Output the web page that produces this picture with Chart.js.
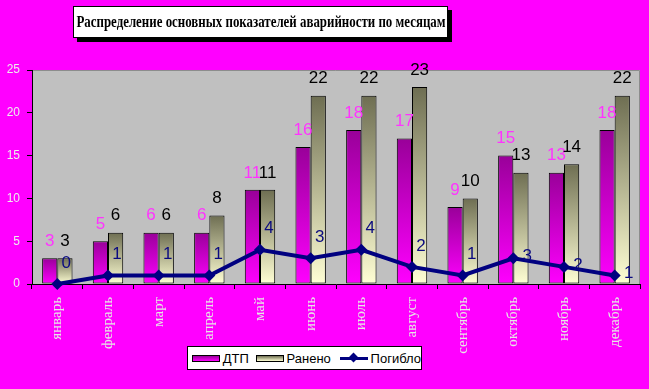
<!DOCTYPE html>
<html>
<head>
<meta charset="utf-8">
<script src="https://cdn.jsdelivr.net/npm/chart.js@4.4.1/dist/chart.umd.min.js"></script>
<style>
  html, body { margin: 0; padding: 0; background: #ff00ff; }
  #wrap { position: relative; width: 649px; height: 389px; overflow: hidden; background: #ff00ff; }
  #c { position: absolute; left: 0; top: 0; }
  #title {
    position: absolute; left: 73px; top: 6px; width: 373px; height: 30px;
    background: #fff; border: 1px solid #000; box-shadow: 4px 4px 0 #000;
    color: #000; white-space: nowrap; overflow: hidden;
  }
  #titleText {
    position: absolute; left: 50%; top: 0; transform: translateX(-50%);
    transform-origin: center center;
    font-family: "Liberation Serif", "DejaVu Serif", serif; font-weight: bold; font-size: 16px;
    line-height: 30px; white-space: nowrap;
  }
  #legend {
    position: absolute; left: 187px; top: 346px; width: 233px; height: 22px;
    background: #fff; border: 1px solid #000;
    font-family: "Liberation Sans", Arial, sans-serif; font-size: 13px; color: #000;
    display: flex; align-items: center; white-space: nowrap;
  }
  .sw { display: inline-block; width: 26px; height: 5px; border: 1px solid #000; margin-right: 3px; }
  .sw1 { background: linear-gradient(to bottom, #990099, #ff00ff); margin-left: 4px; }
  .sw2 { background: linear-gradient(to bottom, #6e6e52, #ffffd4); margin-left: 7px; }
  .ln { position: relative; display: inline-block; width: 28px; height: 3px; background: #000080; margin-left: 9px; margin-right: 3px; }
  .ln::after { content: ""; position: absolute; left: 10px; top: -3px; width: 7px; height: 7px; background: #000080; transform: rotate(45deg); }
</style>
</head>
<body>
<div id="wrap">
  <canvas id="c" width="649" height="389"></canvas>
  <div id="title"><span id="titleText">Распределение основных показателей аварийности по месяцам</span></div>
  <div id="legend">
    <span class="sw sw1"></span><span>ДТП</span>
    <span class="sw sw2"></span><span>Ранено</span>
    <span class="ln"></span><span>Погибло</span>
  </div>
</div>
<script>
// ---- data ----
const months = ['январь','февраль','март','апрель','май','июнь','июль','август','сентябрь','октябрь','ноябрь','декабрь'];
const dtp     = [3, 5, 6, 6, 11, 16, 18, 17, 9, 15, 13, 18];
const injured = [3, 6, 6, 8, 11, 22, 22, 23, 10, 13, 14, 22];
const killed  = [0, 1, 1, 1, 4, 3, 4, 2, 1, 3, 2, 1];
const yTicks  = [0, 5, 10, 15, 20, 25];
const seriesNames = ['ДТП', 'Ранено', 'Погибло'];
// label placement for the "killed" series (as in the reference)
const killedLabelPlace = ['above','above','above','above','above','above','above','above','above','right','right','right'];

// fit the title text into its box (condensed like the reference)
(function fitTitle() {
  const t = document.getElementById('titleText');
  const w = t.offsetWidth;
  const target = 369;
  if (w > 0) t.style.transform = 'translateX(-50%) scaleX(' + (target / w) + ')';
})();

Chart.defaults.font.family = '"Liberation Sans", Arial, sans-serif';
Chart.defaults.animation = false;

function barGradient(ctx, top, bottom) {
  const chart = ctx.chart;
  if (!chart.chartArea || ctx.type !== 'data') return bottom;
  const ys = chart.scales.y;
  const yt = ys.getPixelForValue(ctx.raw);
  const yb = ys.getPixelForValue(0);
  if (!isFinite(yt) || !isFinite(yb) || yt === yb) return bottom;
  const g = chart.ctx.createLinearGradient(0, yt, 0, yb);
  g.addColorStop(0, top);
  g.addColorStop(1, bottom);
  return g;
}

const plotBg = {
  id: 'plotBg',
  beforeDraw(chart) {
    const { ctx, chartArea: a } = chart;
    ctx.save();
    ctx.fillStyle = '#c0c0c0';
    ctx.fillRect(a.left, a.top, a.right - a.left, a.bottom - a.top);
    ctx.strokeStyle = '#8c8c8c';
    ctx.lineWidth = 1;
    ctx.beginPath();
    ctx.moveTo(a.left, a.top + 0.5);
    ctx.lineTo(a.right - 0.5, a.top + 0.5);
    ctx.lineTo(a.right - 0.5, a.bottom);
    ctx.stroke();
    ctx.restore();
  }
};

const valueLabels = {
  id: 'valueLabels',
  afterDatasetsDraw(chart) {
    const { ctx } = chart;
    ctx.save();
    ctx.font = '17px "Liberation Sans", Arial, sans-serif';
    ctx.textAlign = 'center';
    ctx.textBaseline = 'middle';
    chart.data.datasets.forEach((ds, di) => {
      const meta = chart.getDatasetMeta(di);
      meta.data.forEach((el, i) => {
        const v = ds.data[i];
        ctx.fillStyle = ds.labelColor;
        if (ds.type === 'line') {
          if (killedLabelPlace[i] === 'right') {
            ctx.fillText(String(v), el.x + 14, el.y - 2);
          } else {
            ctx.fillText(String(v), el.x + 9, el.y - 21);
          }
        } else {
          ctx.fillText(String(v), el.x, el.y - 17);
        }
      });
    });
    ctx.restore();
  }
};

new Chart(document.getElementById('c'), {
  data: {
    labels: months,
    datasets: [
      {
        type: 'bar', label: seriesNames[0], data: dtp, order: 1,
        backgroundColor: (ctx) => barGradient(ctx, '#990099', '#ff00ff'),
        borderColor: '#000', borderWidth: 1, borderSkipped: false,
        categoryPercentage: 0.6, barPercentage: 1.0,
        labelColor: '#ff33ff'
      },
      {
        type: 'bar', label: seriesNames[1], data: injured, order: 1,
        backgroundColor: (ctx) => barGradient(ctx, '#6e6e52', '#ffffd4'),
        borderColor: '#000', borderWidth: 1, borderSkipped: false,
        categoryPercentage: 0.6, barPercentage: 1.0,
        labelColor: '#000000'
      },
      {
        type: 'line', label: seriesNames[2], data: killed, order: 0,
        borderColor: '#000080', borderWidth: 4, tension: 0,
        pointStyle: 'rectRot', pointRadius: 6, pointBackgroundColor: '#000080',
        pointBorderColor: '#000080', pointBorderWidth: 0, clip: false,
        labelColor: '#0a0a80'
      }
    ]
  },
  options: {
    responsive: false,
    maintainAspectRatio: false,
    layout: { padding: { top: 70, right: 9, bottom: 0, left: 0 } },
    plugins: { legend: { display: false }, tooltip: { enabled: false }, title: { display: false } },
    scales: {
      x: {
        afterFit: (s) => { s.height = 105; },
        grid: { display: true, drawOnChartArea: false, drawTicks: true, tickLength: 5, color: '#000', offset: true },
        border: { display: true, color: '#000', width: 1 },
        ticks: {
          autoSkip: false, minRotation: 90, maxRotation: 90, padding: 8,
          color: '#e6e6e6',
          font: { family: '"Liberation Serif", "Times New Roman", serif', size: 15 }
        }
      },
      y: {
        min: 0, max: 25,
        afterFit: (s) => { s.width = 32; },
        afterBuildTicks: (s) => { s.ticks = yTicks.map(v => ({ value: v })); },
        grid: { display: true, drawOnChartArea: false, drawTicks: true, tickLength: 5, color: '#000' },
        border: { display: true, color: '#000', width: 1 },
        ticks: { color: '#eeeeee', padding: 7, font: { size: 12 } }
      }
    }
  },
  plugins: [plotBg, valueLabels]
});
</script>
</body>
</html>
